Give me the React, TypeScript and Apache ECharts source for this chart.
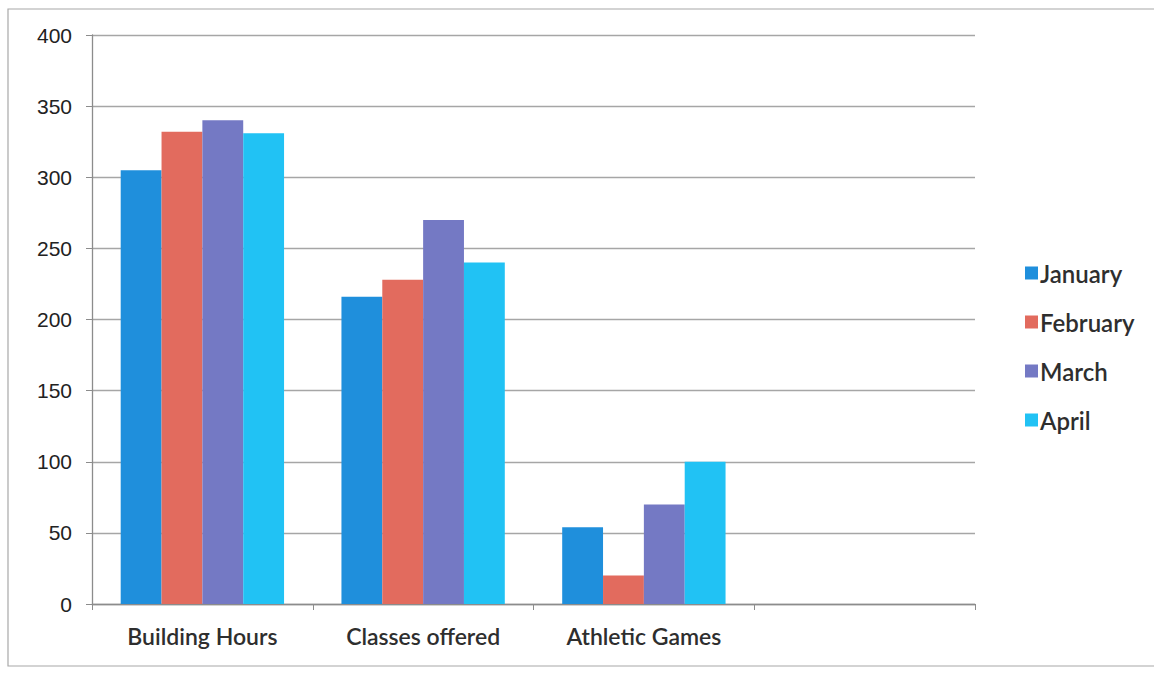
import React, { useEffect, useRef } from "react";
import * as echarts from "echarts";

const categories = ["Building Hours", "Classes offered", "Athletic Games", ""];
const january = [305, 216, 54, null];
const february = [332, 228, 20, null];
const march = [340, 270, 70, null];
const april = [331, 240, 100, null];
const yTicks = { min: 0, max: 400, interval: 50 };

const seriesDefs = [
  { name: "January", data: january, color: "#1f8fdc" },
  { name: "February", data: february, color: "#e26b5e" },
  { name: "March", data: march, color: "#7479c4" },
  { name: "April", data: april, color: "#21c2f4" },
];

export default function App() {
  const ref = useRef<HTMLDivElement>(null);

  useEffect(() => {
    if (!ref.current) return;
    const chart = echarts.init(ref.current, null, { renderer: "svg" });
    chart.setOption({
      animation: false,
      backgroundColor: "#ffffff",
      textStyle: { fontFamily: "Lato, 'Open Sans', sans-serif" },
      graphic: [
        {
          type: "rect",
          shape: { x: 8, y: 9, width: 1150, height: 657 },
          style: { fill: "none", stroke: "#a8a8a8", lineWidth: 1.2 },
          silent: true,
        },
      ],
      grid: { left: 92, top: 35, width: 883, height: 569, containLabel: false },
      legend: {
        orient: "vertical",
        left: 1020,
        top: 256,
        itemWidth: 13,
        itemHeight: 13,
        itemGap: 25,
        icon: "rect",
        textStyle: { fontSize: 24, color: "#2e2e2e", fontWeight: 600, padding: [0, 0, 0, -3] },
        data: seriesDefs.map((s) => s.name),
      },
      xAxis: {
        type: "category",
        data: categories,
        boundaryGap: true,
        axisLine: { lineStyle: { color: "#8c8c8c", width: 1.3 } },
        axisTick: { show: true, length: 6, alignWithLabel: false, lineStyle: { color: "#8c8c8c" } },
        axisLabel: { fontSize: 23, color: "#2e2e2e", fontWeight: 600, margin: 20, interval: 0 },
        splitLine: { show: false },
      },
      yAxis: {
        type: "value",
        min: yTicks.min,
        max: yTicks.max,
        interval: yTicks.interval,
        axisLine: { show: true, lineStyle: { color: "#8c8c8c", width: 1.3 } },
        axisTick: { show: true, length: 6, lineStyle: { color: "#8c8c8c" } },
        axisLabel: { fontSize: 21, color: "#222", margin: 20, fontFamily: "'Liberation Sans Narrow', 'Liberation Sans', sans-serif" },
        splitLine: { show: true, lineStyle: { color: "#a6a6a6", width: 1.3 } },
      },
      series: seriesDefs.map((s) => ({
        name: s.name,
        type: "bar",
        data: s.data,
        barGap: "0%",
        barCategoryGap: "26%",
        itemStyle: { color: s.color },
      })),
    });
    return () => chart.dispose();
  }, []);

  return (
    <div
      ref={ref}
      style={{ position: "fixed", left: 0, top: 0, width: 1154, height: 676 }}
    />
  );
}
